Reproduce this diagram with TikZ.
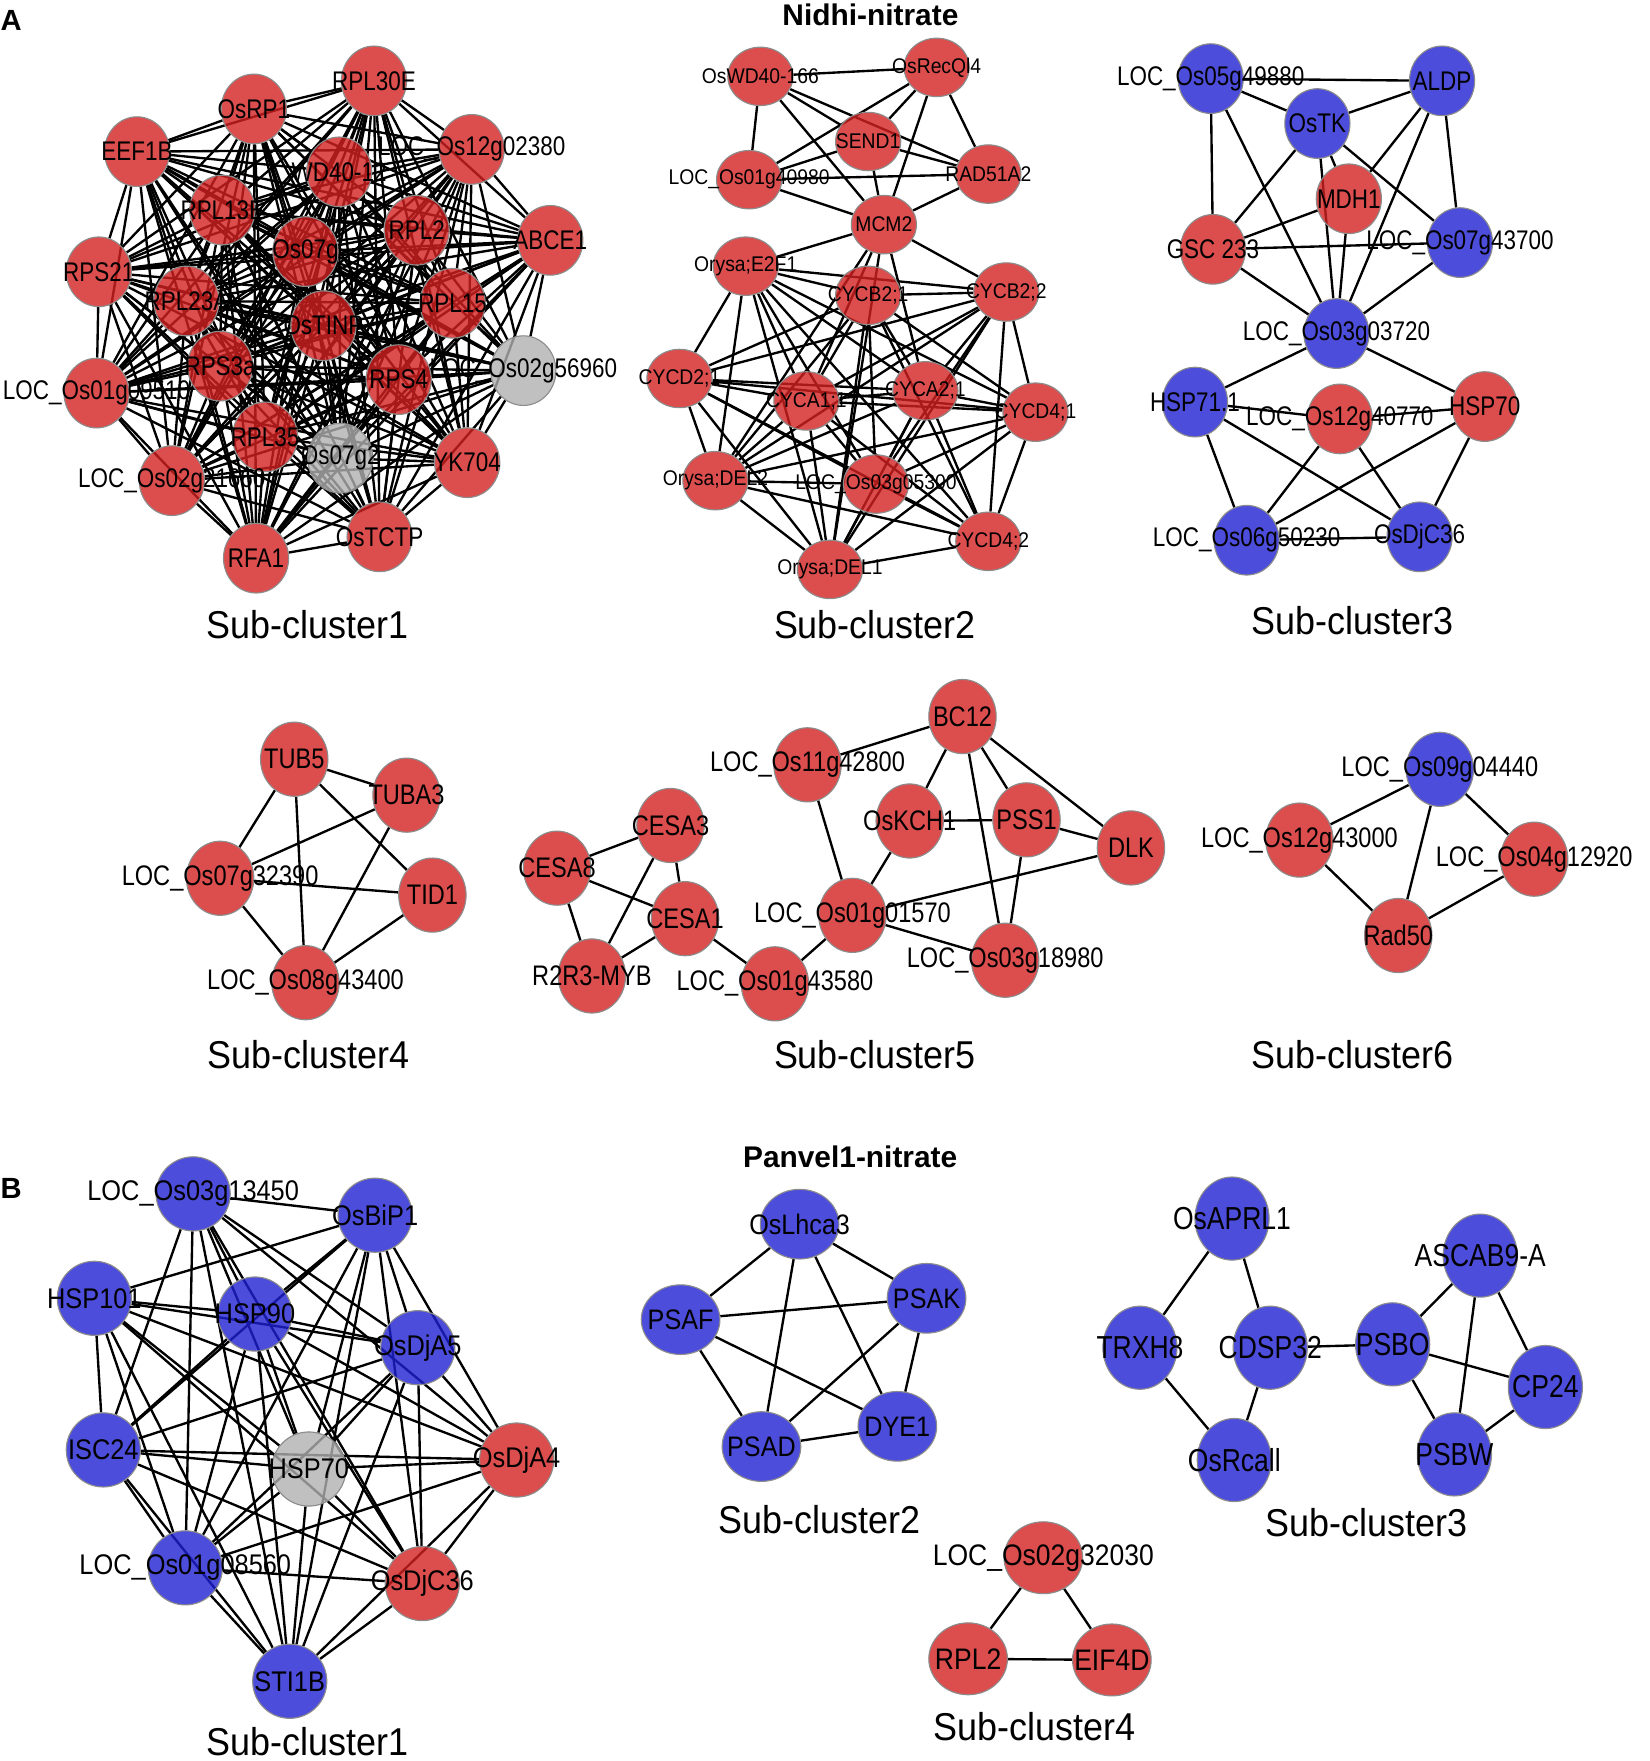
\documentclass[tikz,border=0pt]{standalone}
\usepackage{fontspec}
\setmainfont{Liberation Sans}
\usetikzlibrary{shapes.geometric}
\pgfdeclarelayer{bg}
\pgfsetlayers{bg,main}
\definecolor{nred}{RGB}{211,32,32}
\definecolor{nblue}{RGB}{32,32,211}
\definecolor{ngray}{RGB}{176,176,176}
\newcommand\lys{1.2}
\newcommand\mynode[4]{\node[#1, label={center:{\scalebox{1}[\lys]{#4}}}] (#2) at (#3) {};}
\tikzset{
 nd/.style={ellipse, inner sep=0pt, draw=black!45, line width=0.5pt, fill opacity=0.8},
 rd/.style={nd, fill=nred},
 bl/.style={nd, fill=nblue},
 gy/.style={nd, fill=ngray},
 edge/.style={line width=1.05pt, black},
 subcap/.style={font=\fontsize{16}{19}\selectfont, inner sep=0pt, yscale=1.08, transform shape},
 ttl/.style={font=\bfseries\fontsize{13.3}{16}\selectfont, inner sep=0pt},
 lf/.style={every label/.append style={inner sep=0pt, font=\fontsize{#1}{#1}\selectfont}},
}
\begin{document}
\begin{tikzpicture}[x=0.5pt,y=-0.5pt]
\useasboundingbox (0,0) rectangle (1469,1568);
\node[ttl, font=\bfseries\fontsize{13}{15}\selectfont] (lA) at (10,18) {A};
\node[ttl] (t1) at (775,13) {Nidhi-nitrate};
% ---------- Sub-cluster 1 ----------
\begin{scope}[lf=10, every node/.append style={minimum width=29pt, minimum height=31pt}]
\mynode{rd}{a1}{333,72}{RPL30E}
\mynode{rd}{a2}{226,97}{OsRP1}
\mynode{rd}{a3}{122,135}{EEF1B}
\mynode{rd}{a4}{420,133}{LOC\_Os12g02380}
\mynode{rd}{a5}{302,153}{WD40-12}
\mynode{rd}{a6}{198,187}{RPL13E}
\mynode{rd}{a7}{371,205}{RPL2}
\mynode{rd}{a8}{490,214}{ABCE1}
\mynode{rd}{a9}{272,224}{Os07g}
\mynode{rd}{a10}{88,242}{RPS21}
\mynode{rd}{a11}{166,268}{RPL23A}
\mynode{rd}{a12}{403,270}{RPL15}
\mynode{rd}{a13}{288,290}{OsTINP}
\mynode{gy}{a16}{466,330}{LOC\_Os02g56960}
\mynode{rd}{a14}{196,326}{RPS3a}
\mynode{rd}{a15}{355,338}{RPS4}
\mynode{rd}{a17}{86,350}{LOC\_Os01g09510}
\mynode{gy}{a19}{303,408}{Os07g2}
\mynode{rd}{a18}{236,389}{RPL35}
\mynode{rd}{a20}{416,412}{YK704}
\mynode{rd}{a21}{153,428}{LOC\_Os02g21660}
\mynode{rd}{a22}{228,497}{RFA1}
\mynode{rd}{a23}{338,478}{OsTCTP}
\end{scope}
% ---------- Sub-cluster 2 ----------
\begin{scope}[lf=8.6, every node/.append style={minimum width=29pt, minimum height=26pt}]
\renewcommand\lys{1.1}
\mynode{rd}{b1}{677,68}{OsWD40-166}
\mynode{rd}{b2}{834,60}{OsRecQl4}
\mynode{rd}{b3}{773,126}{SEND1}
\mynode{rd}{b4}{667,160}{LOC\_Os01g40980}
\mynode{rd}{b5}{880,155}{RAD51A2}
\mynode{rd}{b6}{787,200}{MCM2}
\mynode{rd}{b7}{664,237}{Orysa;E2F1}
\mynode{rd}{b8}{773,263}{CYCB2;1}
\mynode{rd}{b9}{896,260}{CYCB2;2}
\mynode{rd}{b10}{605,337}{CYCD2;1}
\mynode{rd}{b11}{718,357}{CYCA1;1}
\mynode{rd}{b12}{824,348}{CYCA2;1}
\mynode{rd}{b13}{922,367}{CYCD4;1}
\mynode{rd}{b14}{637,428}{Orysa;DEL2}
\mynode{rd}{b15}{780,431}{LOC\_Os03g05300}
\mynode{rd}{b16}{880,482}{CYCD4;2}
\mynode{rd}{b17}{739,507}{Orysa;DEL1}
\end{scope}
% ---------- Sub-cluster 3 ----------
\begin{scope}[lf=10, every node/.append style={minimum width=29pt, minimum height=31pt}]
\mynode{bl}{c1}{1078,70}{LOC\_Os05g49880}
\mynode{bl}{c2}{1284,72}{ALDP}
\mynode{bl}{c3}{1173,110}{OsTK}
\mynode{rd}{c4}{1201,177}{MDH1}
\mynode{rd}{c5}{1080,222}{GSC 233}
\mynode{bl}{c6}{1300,216}{LOC\_Os07g43700}
\mynode{bl}{c7}{1190,297}{LOC\_Os03g03720}
\mynode{bl}{c8}{1064,358}{HSP71.1}
\mynode{rd}{c9}{1193,373}{LOC\_Os12g40770}
\mynode{rd}{c10}{1322,362}{HSP70}
\mynode{bl}{c11}{1110,481}{LOC\_Os06g50230}
\mynode{bl}{c12}{1264,478}{OsDjC36}
\end{scope}
\node[subcap] (s1) at (274,556) {Sub-cluster1};
\node[subcap] (s2) at (779,556) {Sub-cluster2};
\node[subcap] (s3) at (1204,553) {Sub-cluster3};
% ---------- Row 2 ----------
\begin{scope}[lf=10.5, every node/.append style={minimum width=30pt, minimum height=33pt}]
\mynode{rd}{d1}{262,676}{TUB5}
\mynode{rd}{d2}{362,708}{TUBA3}
\mynode{rd}{d3}{196,782}{LOC\_Os07g32390}
\mynode{rd}{d4}{385,797}{TID1}
\mynode{rd}{d5}{272,875}{LOC\_Os08g43400}
\mynode{rd}{e1}{597,735}{CESA3}
\mynode{rd}{e2}{496,773}{CESA8}
\mynode{rd}{e3}{610,818}{CESA1}
\mynode{rd}{e4}{527,869}{R2R3-MYB}
\mynode{rd}{e5}{690,876}{LOC\_Os01g43580}
\mynode{rd}{e6}{719,681}{LOC\_Os11g42800}
\mynode{rd}{e7}{857,638}{BC12}
\mynode{rd}{e8}{810,731}{OsKCH1}
\mynode{rd}{e9}{914,730}{PSS1}
\mynode{rd}{e10}{1007,755}{DLK}
\mynode{rd}{e11}{759,815}{LOC\_Os01g01570}
\mynode{rd}{e12}{895,855}{LOC\_Os03g18980}
\mynode{bl}{f1}{1282,685}{LOC\_Os09g04440}
\mynode{rd}{f2}{1157,748}{LOC\_Os12g43000}
\mynode{rd}{f3}{1366,765}{LOC\_Os04g12920}
\mynode{rd}{f4}{1245,833}{Rad50}
\end{scope}
\node[subcap] (s4) at (275,939) {Sub-cluster4};
\node[subcap] (s5) at (779,939) {Sub-cluster5};
\node[subcap] (s6) at (1204,939) {Sub-cluster6};
% ---------- Panel B ----------
\node[ttl, font=\bfseries\fontsize{13}{15}\selectfont] (lB) at (10,1058) {B};
\node[ttl] (t2) at (757,1030) {Panvel1-nitrate};
\begin{scope}[lf=11.3, every node/.append style={minimum width=33pt, minimum height=33pt}]
\renewcommand\lys{1.12}
\mynode{bl}{g1}{172,1063}{LOC\_Os03g13450}
\mynode{bl}{g2}{334,1082}{OsBiP1}
\mynode{bl}{g3}{84,1156}{HSP101}
\mynode{bl}{g4}{227,1170}{HSP90}
\mynode{bl}{g5}{372,1200}{OsDjA5}
\mynode{bl}{g6}{92,1291}{ISC24}
\mynode{gy}{g7}{275,1308}{HSP70}
\mynode{rd}{g8}{460,1300}{OsDjA4}
\mynode{bl}{g9}{165,1396}{LOC\_Os01g08560}
\mynode{rd}{g10}{376,1410}{OsDjC36}
\mynode{bl}{g11}{258,1497}{STI1B}
\end{scope}
\begin{scope}[lf=11.2, every node/.append style={minimum width=35pt, minimum height=31pt}]
\renewcommand\lys{1.12}
\mynode{bl}{h1}{712,1090}{OsLhca3}
\mynode{bl}{h2}{825,1156}{PSAK}
\mynode{bl}{h3}{606,1175}{PSAF}
\mynode{bl}{h4}{799,1270}{DYE1}
\mynode{bl}{h5}{678,1288}{PSAD}
\end{scope}
\begin{scope}[lf=11.8, every node/.append style={minimum width=33pt, minimum height=37pt}]
\mynode{bl}{i1}{1097,1085}{OsAPRL1}
\mynode{bl}{i2}{1015,1200}{TRXH8}
\mynode{bl}{i3}{1131,1200}{CDSP32}
\mynode{bl}{i4}{1099,1300}{OsRcall}
\mynode{bl}{i5}{1240,1197}{PSBO}
\mynode{bl}{i6}{1318,1118}{ASCAB9-A}
\mynode{bl}{i7}{1376,1235}{CP24}
\mynode{bl}{i8}{1295,1295}{PSBW}
\end{scope}
\begin{scope}[lf=11.8, every node/.append style={minimum width=35pt, minimum height=32pt}]
\renewcommand\lys{1.12}
\mynode{rd}{j1}{929,1387}{LOC\_Os02g32030}
\mynode{rd}{j2}{862,1477}{RPL2}
\mynode{rd}{j3}{990,1478}{EIF4D}
\end{scope}
\node[subcap] (s7) at (730,1353) {Sub-cluster2};
\node[subcap] (s8) at (1217,1356) {Sub-cluster3};
\node[subcap] (s9) at (921,1537) {Sub-cluster4};
\node[subcap] (s10) at (274,1551) {Sub-cluster1};
% ---------- Edges ----------
\begin{pgfonlayer}{bg}
\foreach \i in {1,...,22}{\pgfmathtruncatemacro\k{\i+1}
  \foreach \j in {\k,...,23}{\draw[edge] (a\i) -- (a\j);}}
\draw[edge] (b1)--(b2) (b1)--(b4) (b1)--(b3) (b1)--(b5) (b1)--(b6)
 (b2)--(b3) (b2)--(b4) (b2)--(b6) (b2)--(b5) (b3)--(b4) (b3)--(b6) (b3)--(b5)
 (b4)--(b5) (b4)--(b6) (b5)--(b6)
 (b6)--(b7) (b6)--(b9) (b6)--(b11) (b6)--(b12) (b6)--(b14) (b6)--(b17);
\foreach \i in {7,...,16}{\pgfmathtruncatemacro\k{\i+1}
  \foreach \j in {\k,...,17}{\draw[edge] (b\i) -- (b\j);}}
\draw[edge] (c1)--(c2) (c1)--(c3) (c1)--(c5) (c1)--(c7) (c2)--(c3) (c2)--(c4)
 (c2)--(c7) (c2)--(c6) (c3)--(c5) (c3)--(c4) (c3)--(c7) (c3)--(c6) (c4)--(c5)
 (c4)--(c7) (c5)--(c6) (c5)--(c7) (c6)--(c7) (c7)--(c8) (c7)--(c10)
 (c8)--(c9) (c9)--(c10) (c8)--(c11) (c8)--(c12) (c9)--(c11) (c9)--(c12)
 (c10)--(c11) (c10)--(c12) (c11)--(c12);
\draw[edge] (d1)--(d2) (d1)--(d3) (d1)--(d5) (d1)--(d4) (d2)--(d3) (d2)--(d5)
 (d3)--(d4) (d3)--(d5) (d4)--(d5);
\draw[edge] (e2)--(e1) (e2)--(e3) (e2)--(e4) (e1)--(e3) (e1)--(e4) (e3)--(e4)
 (e3)--(e5) (e5)--(e11) (e6)--(e7) (e6)--(e11) (e7)--(e8) (e7)--(e9) (e7)--(e10)
 (e7)--(e12) (e8)--(e9) (e8)--(e11) (e9)--(e10) (e9)--(e12) (e10)--(e11) (e11)--(e12);
\draw[edge] (f1)--(f2) (f1)--(f3) (f1)--(f4) (f2)--(f4) (f3)--(f4);
\foreach \i in {1,...,10}{\pgfmathtruncatemacro\k{\i+1}
  \foreach \j in {\k,...,11}{\pgfmathtruncatemacro\myskip{and(\i==1,\j==3)}
    \ifnum\myskip=0 \draw[edge] (g\i) -- (g\j);\fi}}
\foreach \i in {1,...,4}{\pgfmathtruncatemacro\k{\i+1}
  \foreach \j in {\k,...,5}{\draw[edge] (h\i) -- (h\j);}}
\draw[edge] (i1)--(i2) (i1)--(i3) (i2)--(i4) (i3)--(i4) (i3)--(i5) (i5)--(i6)
 (i5)--(i7) (i5)--(i8) (i6)--(i7) (i6)--(i8) (i7)--(i8);
\draw[edge] (j1)--(j2) (j1)--(j3) (j2)--(j3);
\end{pgfonlayer}
\end{tikzpicture}
\end{document}
